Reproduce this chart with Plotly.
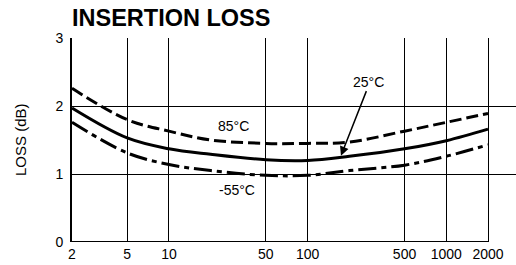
import math
import plotly.graph_objects as go

# Data
freq = [2, 5, 10, 20, 50, 100, 200, 500, 1000, 2000]
loss_85 = [2.26, 1.80, 1.63, 1.50, 1.45, 1.45, 1.47, 1.63, 1.76, 1.89]
loss_25 = [1.97, 1.53, 1.37, 1.29, 1.21, 1.20, 1.26, 1.37, 1.49, 1.66]
loss_m55 = [1.76, 1.31, 1.14, 1.05, 0.98, 0.98, 1.05, 1.13, 1.26, 1.43]
x_ticks = [2, 5, 10, 50, 100, 500, 1000, 2000]
x_tick_labels = ["2", "5", "10", "50", "100", "500", "1000", "2000"]
y_ticks = [0, 1, 2, 3]

FONT = "Liberation Sans, Arial, Helvetica, sans-serif"

fig = go.Figure()
fig.add_trace(go.Scatter(x=freq, y=loss_85, mode="lines", line=dict(color="black", width=3, dash="12px,5px", shape="spline"), name="85°C"))
fig.add_trace(go.Scatter(x=freq, y=loss_25, mode="lines", line=dict(color="black", width=3, shape="spline"), name="25°C"))
fig.add_trace(go.Scatter(x=freq, y=loss_m55, mode="lines", line=dict(color="black", width=3, dash="18px,5px,5px,5px", shape="spline"), name="-55°C"))

# bottom axis line from first to last tick
fig.add_shape(type="line", xref="x", yref="y", x0=x_ticks[0], x1=x_ticks[-1], y0=0, y1=0,
              line=dict(color="black", width=2))

xmin = math.log10(2)
xmax = math.log10(2) + 444 / 138.67

fig.update_layout(
    width=516, height=265,
    margin=dict(l=72, r=0, t=38, b=23),
    paper_bgcolor="white", plot_bgcolor="white",
    showlegend=False,
    font=dict(family=FONT, size=14, color="black"),
    xaxis=dict(type="log", range=[xmin, xmax], tickvals=x_ticks, ticktext=x_tick_labels,
               showgrid=True, gridcolor="black", gridwidth=1, zeroline=False,
               showline=False, ticks="", ticklabelstandoff=2,
               tickfont=dict(size=14, family=FONT), automargin=False),
    yaxis=dict(range=[0, 3], tickvals=y_ticks, showgrid=True, gridcolor="black", gridwidth=1,
               zeroline=False, showline=True, linecolor="black", linewidth=2,
               ticks="", ticklabelstandoff=4, tickfont=dict(size=14, family=FONT), automargin=False),
)

fig.add_annotation(text="<b>INSERTION LOSS</b>", xref="paper", yref="paper", x=-0.004, y=1.0,
                   xanchor="left", yanchor="bottom", yshift=5, showarrow=False,
                   font=dict(size=23.5, family=FONT, color="black"))
fig.add_annotation(text="LOSS (dB)", xref="paper", yref="paper", x=(20 - 72) / 444, y=0.5,
                   textangle=-90, showarrow=False, xanchor="center", yanchor="middle",
                   font=dict(size=15, family=FONT))
fig.add_annotation(text="85°C", x=math.log10(29), y=1.70, showarrow=False,
                   font=dict(size=14, family=FONT))
fig.add_annotation(text="25°C", x=math.log10(273), y=2.35, showarrow=False,
                   font=dict(size=14, family=FONT))
fig.add_annotation(text="-55°C", x=math.log10(31), y=0.76, showarrow=False,
                   font=dict(size=14, family=FONT))
fig.add_annotation(text="", x=math.log10(174), y=1.27, ax=26, ay=-66, showarrow=True,
                   arrowhead=2, arrowsize=1.2, arrowwidth=1.5, arrowcolor="black")

fig.write_html("out.html", config={"displayModeBar": False},
               post_script="document.body.style.margin='0';")
